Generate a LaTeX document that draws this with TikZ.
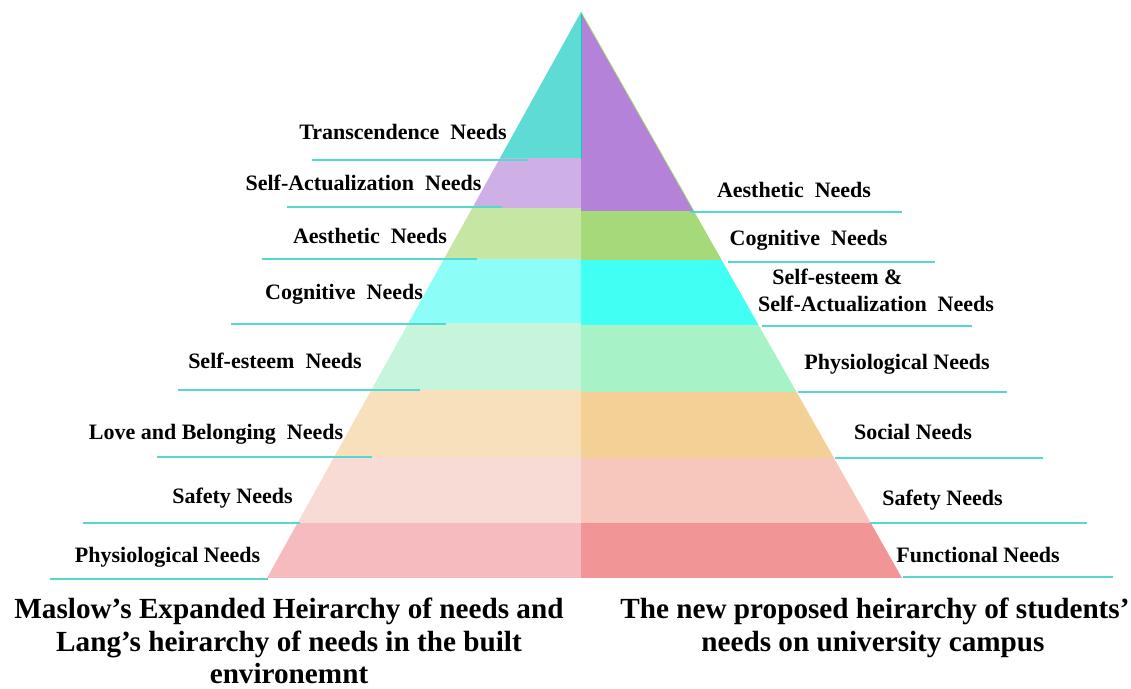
\documentclass[tikz,border=0pt]{standalone}
\usepackage{fontspec}
\setmainfont{Liberation Serif}
\usetikzlibrary{calc}
\begin{document}
\begin{tikzpicture}[x=1pt,y=-1pt,
  lbl/.style={font=\fontsize{22}{25}\selectfont\bfseries, inner sep=0pt, anchor=base},
  captxt/.style={font=\fontsize{29.2}{33}\selectfont\bfseries, inner sep=0pt, anchor=base, align=center},
  rule/.style={draw=ruleC, line width=1.8pt}]
\definecolor{ruleC}{HTML}{56D8D0}
% left half tiers
\definecolor{La}{HTML}{5FDBD6}\definecolor{Lb}{HTML}{CFB0E6}\definecolor{Lc}{HTML}{C6E6A4}
\definecolor{Ld}{HTML}{8DFEF7}\definecolor{Le}{HTML}{C6F5DC}\definecolor{Lf}{HTML}{F8E0BC}
\definecolor{Lg}{HTML}{F9DBD5}\definecolor{Lh}{HTML}{F6BBBF}
% right half tiers
\definecolor{Ra}{HTML}{B482D8}\definecolor{Rb}{HTML}{A6D97A}\definecolor{Rc}{HTML}{42FFF4}
\definecolor{Rd}{HTML}{A8F2C8}\definecolor{Re}{HTML}{F3D095}\definecolor{Rf}{HTML}{F7C7BE}
\definecolor{Rg}{HTML}{F29597}
\definecolor{edgeTeal}{HTML}{1BBFB5}
\definecolor{edgeGreen}{HTML}{A8E070}
\useasboundingbox (0,0) rectangle (1131,688);
\coordinate (apex) at (581,12);
\coordinate (bl) at (267,578);
\coordinate (br) at (902,578);
% left half of the pyramid
\begin{scope}
  \clip (apex) -- (bl) -- (581,578) -- cycle;
  \fill[La] (0,12) rectangle (581,158);
  \fill[Lb] (0,158) rectangle (581,208);
  \fill[Lc] (0,208) rectangle (581,259);
  \fill[Ld] (0,259) rectangle (581,323);
  \fill[Le] (0,323) rectangle (581,390);
  \fill[Lf] (0,390) rectangle (581,457);
  \fill[Lg] (0,457) rectangle (581,523);
  \fill[Lh] (0,523) rectangle (581,578);
\end{scope}
% right half of the pyramid
\begin{scope}
  \clip (apex) -- (br) -- (581,578) -- cycle;
  \fill[Ra] (581,12) rectangle (1131,211);
  \fill[Rb] (581,211) rectangle (1131,260);
  \fill[Rc] (581,260) rectangle (1131,325);
  \fill[Rd] (581,325) rectangle (1131,392);
  \fill[Re] (581,392) rectangle (1131,458);
  \fill[Rf] (581,458) rectangle (1131,523);
  \fill[Rg] (581,523) rectangle (1131,578);
\end{scope}
\coordinate (midtop) at (581,158);
\coordinate (rgreen) at ($(apex)!0.35!(br)$);
\draw[edgeTeal, line width=0.8pt] (apex) -- (midtop);
\draw[edgeGreen, line width=0.8pt] (apex) -- (rgreen);

% left labels and rules
\node[lbl] (l1) at (403,139) {Transcendence\ \ Needs};
\node[lbl] (l2) at (363.5,190) {Self-Actualization\ \ Needs};
\node[lbl] (l3) at (370,243) {Aesthetic\ \ Needs};
\node[lbl] (l4) at (344,299) {Cognitive\ \ Needs};
\node[lbl] (l5) at (275,368) {Self-esteem\ \ Needs};
\node[lbl] (l6) at (216,439) {Love and Belonging\ \ Needs};
\node[lbl] (l7) at (232.5,503) {Safety Needs};
\node[lbl] (l8) at (167.5,562) {Physiological Needs};
\coordinate (a1) at (312,160); \coordinate (b1) at (528,160);
\coordinate (a2) at (287,207); \coordinate (b2) at (502,207);
\coordinate (a3) at (262,259); \coordinate (b3) at (477,259);
\coordinate (a4) at (231,324); \coordinate (b4) at (446,324);
\coordinate (a5) at (178,390); \coordinate (b5) at (420,390);
\coordinate (a6) at (157,457); \coordinate (b6) at (372,457);
\coordinate (a7) at (83,523);  \coordinate (b7) at (300,523);
\coordinate (a8) at (50,579);  \coordinate (b8) at (268,579);
\foreach \i in {1,...,8} \draw[rule] (a\i) -- (b\i);

% right labels and rules
\node[lbl] (r1) at (794,197) {Aesthetic\ \ Needs};
\node[lbl] (r2) at (808.5,245) {Cognitive\ \ Needs};
\node[lbl] (r3a) at (837.5,284) {Self-esteem \&};
\node[lbl] (r3b) at (876,311) {Self-Actualization\ \ Needs};
\node[lbl] (r4) at (897,369) {Physiological Needs};
\node[lbl] (r5) at (913,439) {Social Needs};
\node[lbl] (r6) at (942.5,505) {Safety Needs};
\node[lbl] (r7) at (978,562) {Functional Needs};
\coordinate (c1) at (690,212);  \coordinate (d1) at (902,212);
\coordinate (c2) at (728,262);  \coordinate (d2) at (935,262);
\coordinate (c3) at (762,326);  \coordinate (d3) at (972,326);
\coordinate (c4) at (798,392);  \coordinate (d4) at (1007,392);
\coordinate (c5) at (835,458);  \coordinate (d5) at (1043,458);
\coordinate (c6) at (870,523);  \coordinate (d6) at (1087,523);
\coordinate (c7) at (903,577);  \coordinate (d7) at (1113,577);
\foreach \i in {1,...,7} \draw[rule] (c\i) -- (d\i);

% captions
\node[captxt] (capL1) at (289,618) {Maslow’s Expanded Heirarchy of needs and};
\node[captxt] (capL2) at (289,651) {Lang’s heirarchy of needs in the built};
\node[captxt] (capL3) at (289,683) {environemnt};
\node[captxt] (capR1) at (875,618) {The new proposed heirarchy of students’};
\node[captxt] (capR2) at (873,651) {needs on university campus};
\end{tikzpicture}
\end{document}
